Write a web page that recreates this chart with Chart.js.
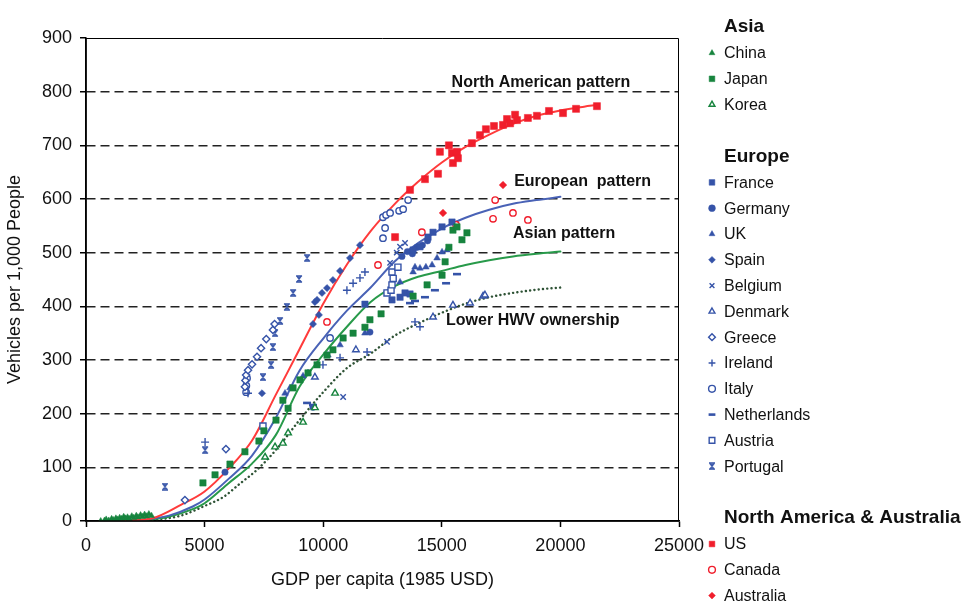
<!DOCTYPE html>
<html>
<head>
<meta charset="utf-8">
<script src="https://cdn.jsdelivr.net/npm/chart.js@4/dist/chart.umd.min.js"></script>
<style>
  html, body { margin: 0; padding: 0; background: #fff; }
  #wrap { width: 973px; height: 601px; }
</style>
</head>
<body>
<div id="wrap"><canvas id="carChart" width="973" height="601"></canvas></div>
<script>
// ---- data (GDP per capita, vehicles per 1,000 people) ----
const xTicks = [0, 5000, 10000, 15000, 20000, 25000];
const yTicks = [0, 100, 200, 300, 400, 500, 600, 700, 800, 900];

const chinaPts = [[620,0],[780,1],[850,3],[960,1],[1080,4],[1150,2],[1260,5],[1330,3],[1420,6],[1500,4],[1590,8],[1660,5],[1750,7],[1820,4],[1930,9],[2010,6],[2120,10],[2190,7],[2300,11],[2380,8],[2470,12],[2560,9],[2650,13],[2760,10]];
const japanPts = [[4930,71],[5440,86],[6070,106],[6700,129],[7290,149],[7500,168],[8010,188],[8300,225],[8520,210],[8730,248],[9020,263],[9360,276],[9740,291],[10160,309],[10410,319],[10840,341],[11260,350],[11760,361],[11970,375],[12440,386],[13790,419],[14380,440],[15010,458],[15140,483],[15300,510],[15470,542],[15640,548],[15850,524],[16060,537]];
const koreaPts = [[7550,119],[7970,138],[8300,145],[8520,164],[9150,184],[9650,211],[10500,238]];

const francePts = [[11760,404],[12900,412],[13240,417],[13450,425],[13660,423],[13790,505],[14080,511],[14420,529],[14630,538],[15010,548],[15430,557]];
const germanyPts = [[5860,91],[9570,212],[11970,352],[13320,493],[13550,502],[13760,498],[13950,510],[14180,514],[14400,522]];
const ukPts = [[8390,238],[8600,248],[9150,270],[9360,276],[10200,309],[10710,328],[11760,350],[13240,445],[13790,464],[13870,473],[14080,471],[14330,473],[14590,477],[14800,490],[15010,501],[15220,505]];
const spainPts = [[7420,238],[9570,367],[9650,408],[9740,412],[9820,384],[9950,425],[10160,434],[10410,449],[10710,466],[11130,490],[11550,514]];
const belgiumPts = [[10840,231],[12690,334],[12820,481],[13100,500],[13240,511],[13450,518]];
const denmarkPts = [[9650,268],[11380,319],[14630,380],[15470,402],[16190,406],[16740,419],[16820,421]];
const greecePts = [[4170,39],[5900,134],[6700,250],[6720,262],[6750,272],[6830,281],[7000,292],[7210,306],[7380,322],[7600,339],[7880,356],[7950,367]];
const irelandPts = [[5020,147],[6830,238],[9990,291],[10710,304],[11850,315],[11000,430],[11260,443],[11550,453],[11760,464],[13870,371],[14080,362]];
const italyPts = [[6750,240],[6760,252],[6790,266],[10290,341],[12520,527],[12610,546],[12520,566],[12650,570],[12820,574],[13200,578],[13370,581],[13580,598]];
const netherlandsPts = [[9320,220],[9570,216],[13660,406],[13870,410],[14290,417],[14710,430],[15180,443],[15640,460]];
const austriaPts = [[7460,177],[12690,425],[12860,430],[12900,440],[12950,452],[12900,464],[13150,473]];
const portugalPts = [[3330,64],[5020,132],[7460,268],[7800,291],[7880,324],[7970,350],[8180,373],[8470,399],[8730,425],[8980,451],[9320,490]];

const usPts = [[13030,529],[13660,617],[14290,637],[14840,647],[14920,688],[15300,700],[15430,686],[15470,667],[15640,688],[15680,676],[16270,704],[16610,719],[16860,730],[17200,736],[17580,738],[17750,749],[17880,741],[18090,757],[18170,747],[18630,751],[19010,755],[19520,764],[20110,760],[20660,768],[21540,773]];
const canadaPts = [[10160,371],[12310,477],[14160,538],[15600,552],[17160,563],[17250,598],[18000,574],[18630,561]];
const australiaPts = [[15050,574],[17580,626]];

// fitted patterns
const naPattern = [[1000,0],[2000,2],[2800,5],[4000,30],[5000,55],[6000,97],[7000,150],[8000,235],[9000,320],[10000,405],[11000,478],[12000,540],[13000,590],[14000,632],[15000,668],[16000,697],[17000,720],[18000,740],[19000,755],[20000,765],[21000,772],[21500,775]];
const euPattern = [[1000,0],[2500,3],[3500,10],[4500,27],[5000,40],[6000,78],[7000,122],[8000,192],[9000,280],[10000,340],[11000,392],[12000,435],[13000,483],[14000,518],[15000,545],[16000,565],[17000,580],[18000,591],[19000,598],[20000,604]];
const asPattern = [[1000,0],[2500,2],[3500,8],[4500,22],[5000,33],[6000,70],[7000,107],[8000,160],[9000,250],[10000,310],[11000,362],[12000,408],[13000,437],[14000,455],[15000,466],[16000,477],[17000,486],[18000,493],[19000,498],[20000,502]];
const lowPattern = [[1000,0],[3000,3],[4000,10],[5000,28],[5800,45],[6500,70],[7200,95],[8000,132],[9000,188],[10000,240],[11000,285],[12000,312],[13000,345],[14000,368],[15000,388],[16000,405],[17000,417],[18000,425],[19000,431],[20000,435]];

const patternLabels = [
  { text: 'North American pattern', x: 19180, y: 816, align: 'center' },
  { text: 'European  pattern', x: 18050, y: 633, align: 'left' },
  { text: 'Asian pattern', x: 18000, y: 535, align: 'left' },
  { text: 'Lower HWV ownership', x: 15180, y: 373, align: 'left' }
];

// ---- styles ----
const green = '#17843e';
const blue = '#3553a8';
const red = '#f01e2c';

// Portugal marker: a cross with bars top and bottom
function portugalMark(size) {
  const c = document.createElement('canvas');
  c.width = size; c.height = size;
  const g = c.getContext('2d');
  g.strokeStyle = blue;
  g.lineWidth = 1.5;
  const a = 1, b = size - 1;
  g.beginPath();
  g.moveTo(a, a); g.lineTo(b, a);
  g.moveTo(a, b); g.lineTo(b, b);
  g.moveTo(a + 1, a); g.lineTo(b - 1, b);
  g.moveTo(b - 1, a); g.lineTo(a + 1, b);
  g.stroke();
  return c;
}

const countries = [
  { group: 'Asia', name: 'China', pts: chinaPts, color: green, style: 'triangle', open: false, r: 3.5 },
  { group: 'Asia', name: 'Japan', pts: japanPts, color: green, style: 'rect', open: false, r: 4.5 },
  { group: 'Asia', name: 'Korea', pts: koreaPts, color: green, style: 'triangle', open: true, r: 3.8 },
  { group: 'Europe', name: 'France', pts: francePts, color: blue, style: 'rect', open: false, r: 4.5 },
  { group: 'Europe', name: 'Germany', pts: germanyPts, color: blue, style: 'circle', open: false, r: 3.2 },
  { group: 'Europe', name: 'UK', pts: ukPts, color: blue, style: 'triangle', open: false, r: 3.8 },
  { group: 'Europe', name: 'Spain', pts: spainPts, color: blue, style: 'rectRot', open: false, r: 3.6 },
  { group: 'Europe', name: 'Belgium', pts: belgiumPts, color: blue, style: 'crossRot', open: false, r: 3.8 },
  { group: 'Europe', name: 'Denmark', pts: denmarkPts, color: blue, style: 'triangle', open: true, r: 3.8 },
  { group: 'Europe', name: 'Greece', pts: greecePts, color: blue, style: 'rectRot', open: true, r: 3.6 },
  { group: 'Europe', name: 'Ireland', pts: irelandPts, color: blue, style: 'cross', open: false, r: 4 },
  { group: 'Europe', name: 'Italy', pts: italyPts, color: blue, style: 'circle', open: true, r: 3.2 },
  { group: 'Europe', name: 'Netherlands', pts: netherlandsPts, color: blue, style: 'line', open: false, r: 4 },
  { group: 'Europe', name: 'Austria', pts: austriaPts, color: blue, style: 'rect', open: true, r: 4.3 },
  { group: 'Europe', name: 'Portugal', pts: portugalPts, color: blue, style: portugalMark(8), open: false, r: 4 },
  { group: 'North America & Australia', name: 'US', pts: usPts, color: red, style: 'rect', open: false, r: 5 },
  { group: 'North America & Australia', name: 'Canada', pts: canadaPts, color: red, style: 'circle', open: true, r: 3.2 },
  { group: 'North America & Australia', name: 'Australia', pts: australiaPts, color: red, style: 'rectRot', open: false, r: 3.8 }
];

const toXY = arr => arr.map(p => ({ x: p[0], y: p[1] }));

const curveDs = (label, pts, color, dash, width) => ({
  label: label,
  data: toXY(pts),
  showLine: true,
  borderColor: color,
  borderWidth: width,
  borderDash: dash,
  borderCapStyle: 'round',
  cubicInterpolationMode: 'monotone',
  pointRadius: 0,
  fill: false
});

const lineDatasets = [
  curveDs('North American pattern', naPattern, '#ff3b3b', [], 2),
  curveDs('European pattern', euPattern, '#4962b6', [], 2),
  curveDs('Asian pattern', asPattern, '#289a4a', [], 2),
  curveDs('Lower HWV ownership', lowPattern, '#2f5336', [0.1, 4.2], 2.4)
];

const markWidth = c => c.style === 'line' ? 2.6 : (c.open || c.style === 'cross' || c.style === 'crossRot' ? 1.4 : 0.5);

const pointDatasets = countries.map(c => ({
  label: c.name,
  data: toXY(c.pts),
  pointStyle: c.style,
  pointRadius: c.r,
  pointHoverRadius: c.r,
  pointBackgroundColor: c.open ? '#ffffff' : c.color,
  pointBorderColor: c.color,
  pointBorderWidth: markWidth(c),
  showLine: false
}));

const FONT = '"Liberation Sans", Arial, sans-serif';

const framePlugin = {
  id: 'frame',
  afterDraw(chart) {
    const { ctx, chartArea: a, scales } = chart;
    ctx.save();
    // top and right border of the plot area
    ctx.strokeStyle = '#000';
    ctx.lineWidth = 1;
    ctx.setLineDash([]);
    ctx.beginPath();
    ctx.moveTo(a.left, a.top + 0.5);
    ctx.lineTo(a.right - 0.5, a.top + 0.5);
    ctx.lineTo(a.right - 0.5, a.bottom);
    ctx.stroke();
    // solid axis lines
    ctx.lineWidth = 1.5;
    ctx.beginPath();
    ctx.moveTo(a.left, a.top);
    ctx.lineTo(a.left, a.bottom);
    ctx.lineTo(a.right, a.bottom);
    ctx.stroke();

    // pattern labels
    ctx.fillStyle = '#111';
    ctx.font = 'bold 16px ' + FONT;
    ctx.textBaseline = 'middle';
    patternLabels.forEach(l => {
      ctx.textAlign = l.align;
      ctx.fillText(l.text, scales.x.getPixelForValue(l.x), scales.y.getPixelForValue(l.y));
    });

    // grouped legend
    const mx = 712, tx = 724;
    let y = 27;
    let group = null;
    countries.forEach(c => {
      if (c.group !== group) {
        if (group !== null) y += 26;
        group = c.group;
        ctx.fillStyle = '#111';
        ctx.font = 'bold 19px ' + FONT;
        ctx.textAlign = 'left';
        ctx.fillText(group, tx, y);
        y += 26;
      }
      ctx.fillStyle = c.open ? '#ffffff' : c.color;
      ctx.strokeStyle = c.color;
      ctx.lineWidth = markWidth(c);
      Chart.helpers.drawPoint(ctx, {
        pointStyle: c.style,
        radius: c.style === 'rect' ? 4 : 3.4,
        rotation: 0,
        borderWidth: ctx.lineWidth
      }, mx, y);
      ctx.fillStyle = '#111';
      ctx.font = '16px ' + FONT;
      ctx.textAlign = 'left';
      ctx.fillText(c.name, tx, y + 1);
      y += 25.8;
    });
    ctx.restore();
  }
};

const ctx = document.getElementById('carChart').getContext('2d');
const carChart = new Chart(ctx, {
  type: 'scatter',
  data: { datasets: pointDatasets.concat(lineDatasets) },
  options: {
    responsive: false,
    animation: false,
    events: [],
    layout: { padding: { left: 0, top: 38, right: 294, bottom: 0 } },
    plugins: { legend: { display: false }, tooltip: { enabled: false } },
    scales: {
      x: {
        type: 'linear',
        min: xTicks[0],
        max: xTicks[xTicks.length - 1],
        afterBuildTicks: s => { s.ticks = xTicks.map(v => ({ value: v })); },
        afterFit: s => { s.height = 80; },
        border: { display: true, color: '#000', width: 1.5 },
        grid: { drawOnChartArea: false, drawTicks: true, tickLength: 6, tickColor: '#000', tickWidth: 1.5 },
        ticks: { color: '#111', font: { family: FONT, size: 18 }, padding: 8, maxRotation: 0, autoSkip: false, callback: v => String(v) },
        title: { display: true, text: 'GDP per capita (1985 USD)', color: '#111', font: { family: FONT, size: 18 }, padding: { top: 4, bottom: 10 } }
      },
      y: {
        type: 'linear',
        min: yTicks[0],
        max: yTicks[yTicks.length - 1],
        afterBuildTicks: s => { s.ticks = yTicks.map(v => ({ value: v })); },
        afterFit: s => { s.width = 86; },
        border: { display: true, color: '#000', width: 1.5, dash: [9, 5] },
        grid: {
          color: c => (c.tick.value === 0 || c.tick.value === 900) ? 'rgba(0,0,0,0)' : '#222',
          lineWidth: 1.5,
          drawTicks: true,
          tickLength: 6,
          tickColor: '#000',
          tickWidth: 1.5,
          tickBorderDash: []
        },
        ticks: { color: '#111', font: { family: FONT, size: 18 }, padding: 8, autoSkip: false, callback: v => String(v) },
        title: { display: true, text: 'Vehicles per 1,000 People', color: '#111', font: { family: FONT, size: 18 }, padding: { top: 4, bottom: 4 } }
      }
    }
  },
  plugins: [framePlugin]
});
</script>
</body>
</html>
